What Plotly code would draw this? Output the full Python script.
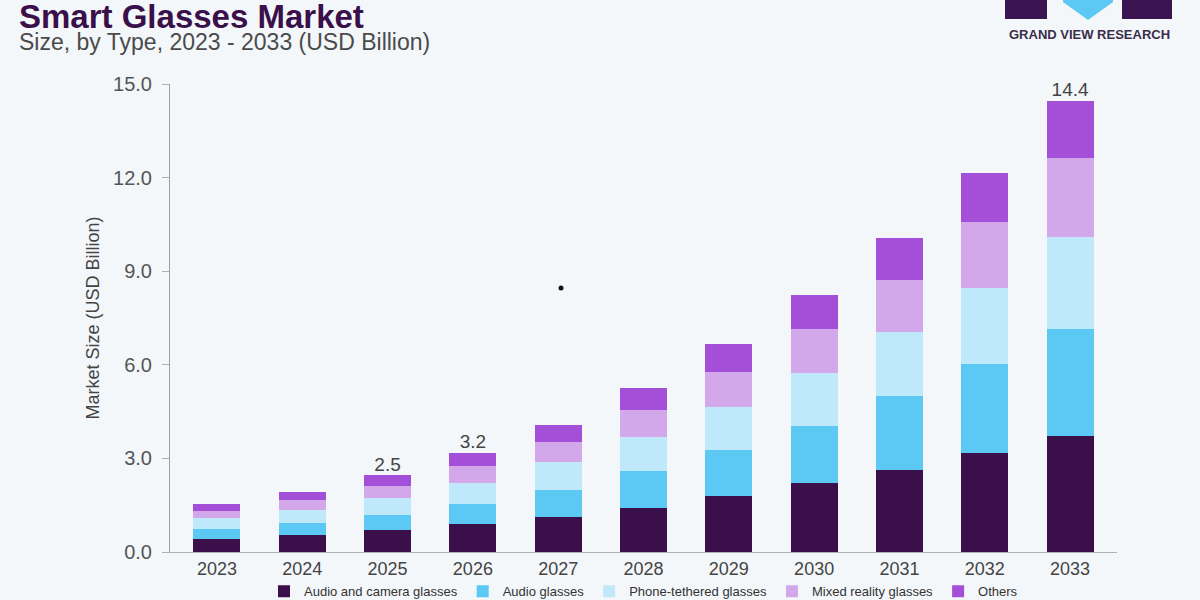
import plotly.graph_objects as go

years = ["2023", "2024", "2025", "2026", "2027", "2028", "2029", "2030", "2031", "2032", "2033"]
series_names = ["Audio and camera glasses", "Audio glasses", "Phone-tethered glasses", "Mixed reality glasses", "Others"]
seg_dark = [0.43, 0.54, 0.69, 0.89, 1.13, 1.42, 1.79, 2.20, 2.64, 3.16, 3.71]
seg_blue = [0.31, 0.38, 0.50, 0.65, 0.86, 1.17, 1.48, 1.85, 2.35, 2.85, 3.45]
seg_lightblue = [0.34, 0.43, 0.55, 0.68, 0.88, 1.10, 1.39, 1.70, 2.05, 2.45, 2.94]
seg_lilac = [0.25, 0.32, 0.39, 0.54, 0.65, 0.87, 1.10, 1.40, 1.69, 2.13, 2.53]
seg_purple = [0.21, 0.25, 0.33, 0.41, 0.56, 0.71, 0.91, 1.09, 1.33, 1.55, 1.83]
total_labels = ["", "", "2.5", "3.2", "", "", "", "", "", "", "14.4"]
y_ticks = [0, 3, 6, 9, 12, 15]

colors = ["#3a0f4a", "#5cc9f5", "#bfe9fa", "#d3a8ea", "#a44fd8"]
series = [seg_dark, seg_blue, seg_lightblue, seg_lilac, seg_purple]

fig = go.Figure()
for name, vals, col in zip(series_names, series, colors):
    fig.add_trace(go.Bar(x=years, y=vals, name=name, marker=dict(color=col, line=dict(width=0))))

totals = [sum(v) for v in zip(*series)]
fig.add_trace(go.Scatter(
    x=years, y=totals, mode="text", text=total_labels, textposition="top center",
    textfont=dict(size=19, color="#444444", family="Liberation Sans"),
    showlegend=False, hoverinfo="skip", cliponaxis=False))

bg = "#f3f7fa"
fig.update_layout(
    width=1200, height=600,
    barmode="stack", bargap=0.45,
    paper_bgcolor=bg, plot_bgcolor=bg,
    margin=dict(l=170, r=83, t=84, b=48, autoexpand=False),
    font=dict(family="Liberation Sans", color="#444444"),
    showlegend=True,
    legend=dict(orientation="h", x=0.5, xanchor="center", y=-0.052, yanchor="top",
                font=dict(size=13, color="#333333"), traceorder="normal",
                bgcolor="rgba(0,0,0,0)", itemwidth=30, tracegroupgap=0),
    xaxis=dict(range=[-0.55, 10.55], showline=True, linecolor="#b0b0b0", linewidth=1,
               ticks="", tickfont=dict(size=18, color="#444444"), showgrid=False,
               fixedrange=True, automargin=False),
    yaxis=dict(range=[0, 15], tickvals=y_ticks, tickformat=".1f", showgrid=False,
               zeroline=False, showline=True, linecolor="#a0a0a0", linewidth=1,
               ticks="outside", ticklen=7, tickcolor="#b0b0b0", ticklabelstandoff=6,
               tickfont=dict(size=20, color="#555555"), automargin=False,
               title=dict(text="Market Size (USD Billion)", font=dict(size=18, color="#444444"),
                          standoff=8)),
)

# Title and subtitle
fig.add_annotation(text="<b>Smart Glasses Market</b>", xref="paper", yref="paper",
                   x=-0.162, y=1.145, xanchor="left", yanchor="middle", showarrow=False,
                   font=dict(size=33, color="#3a0f4a", family="Liberation Sans"))
fig.add_annotation(text="Size, by Type, 2023 - 2033 (USD Billion)", xref="paper", yref="paper",
                   x=-0.162, y=1.089, xanchor="left", yanchor="middle", showarrow=False,
                   font=dict(size=23, color="#4a4a4a", family="Liberation Sans"))

# Logo
def px_x(x):
    return (x - 170) / (1117 - 170)

def px_y(y):
    return (552 - y) / (552 - 84)

fig.add_shape(type="rect", xref="paper", yref="paper", x0=px_x(1005), x1=px_x(1047),
              y0=px_y(19), y1=px_y(-5), fillcolor="#3a1450", line=dict(width=0))
fig.add_shape(type="rect", xref="paper", yref="paper", x0=px_x(1122), x1=px_x(1172),
              y0=px_y(19), y1=px_y(-5), fillcolor="#3a1450", line=dict(width=0))
fig.add_shape(type="path", xref="paper", yref="paper",
              path=f"M {px_x(1063)} {px_y(-5)} L {px_x(1113)} {px_y(-5)} L {px_x(1113)} {px_y(2)} L {px_x(1088)} {px_y(20)} L {px_x(1063)} {px_y(2)} Z",
              fillcolor="#5cc9f5", line=dict(width=0))
fig.add_annotation(text="<b>GRAND VIEW RESEARCH</b>", xref="paper", yref="paper",
                   x=px_x(1089), y=px_y(35), xanchor="center", yanchor="middle", showarrow=False,
                   font=dict(size=13, color="#3b2d4a", family="Liberation Sans"))

# stray dot seen in the reference
fig.add_shape(type="circle", xref="paper", yref="paper", x0=px_x(558.5), x1=px_x(563.5),
              y0=px_y(290.5), y1=px_y(285.5), fillcolor="#111111", line=dict(width=0))

fig.write_html("out.html")
